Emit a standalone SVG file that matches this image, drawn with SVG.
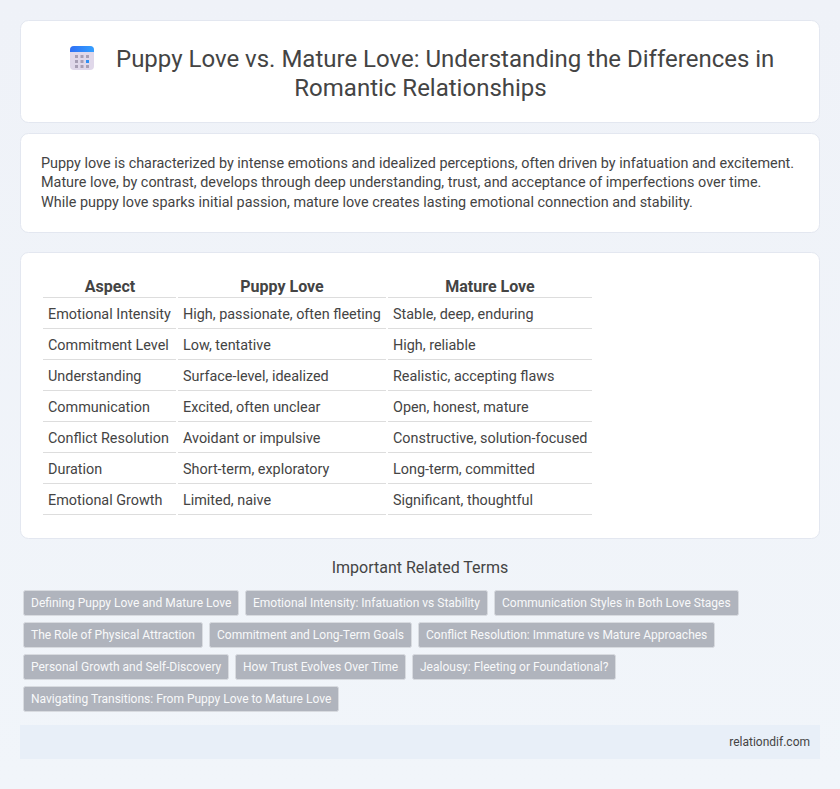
<svg xmlns="http://www.w3.org/2000/svg" width="840" height="789" viewBox="0 0 840 789">
<style>
text{font-family:Roboto,"Liberation Sans",sans-serif;fill:#444}
.card{fill:#fff;stroke:#e3e7f0;stroke-width:1}
.t{font-size:24px}
.p{font-size:14.4px}
.h{font-size:16px;font-weight:700;text-anchor:middle}
.c{font-size:14.4px}
.l{stroke:#ddd;stroke-width:1;fill:none}
.tag rect{fill:#b0b4bd;stroke:#d8dbe0;stroke-width:1}
.tag text{font-size:12px;fill:#f8f9fa}
</style>
<defs>
<linearGradient id="bg" x1="0" y1="0" x2="0" y2="1"><stop offset="0" stop-color="#eff2f8"/><stop offset="1" stop-color="#f1f5fa"/></linearGradient>
<linearGradient id="band" x1="0" y1="0" x2="1" y2="0"><stop offset="0" stop-color="#2f6ff5"/><stop offset="1" stop-color="#34a0ff"/></linearGradient>
</defs>
<rect width="840" height="789" fill="url(#bg)"/>
<g id="title-card">
<rect class="card" x="20.5" y="20.5" width="799" height="102" rx="8"/>
<rect x="70" y="46" width="24" height="24" rx="4" fill="#e0d8ea"/>
<path d="M70 52v-2a4 4 0 0 1 4-4h16a4 4 0 0 1 4 4v2z" fill="url(#band)"/>
<g fill="#a89fb5"><rect x="75" y="55" width="3" height="3"/><rect x="80.500" y="55" width="3" height="3"/><rect x="86" y="55" width="3" height="3"/><rect x="75" y="60" width="3" height="3"/><rect x="80.500" y="60" width="3" height="3"/><rect x="75" y="65" width="3" height="3"/><rect x="80.500" y="65" width="3" height="3"/><rect x="86" y="65" width="3" height="3"/></g>
<rect x="86" y="60" width="3" height="3" fill="#2f8ff5"/>
<text class="t" x="116" y="67">Puppy Love vs. Mature Love: Understanding the Differences in</text>
<text class="t" x="420.500" y="96" text-anchor="middle">Romantic Relationships</text>
</g>
<g id="intro-card">
<rect class="card" x="20.5" y="133.500" width="799" height="99" rx="8"/>
<text class="p" x="41" y="168">Puppy love is characterized by intense emotions and idealized perceptions, often driven by infatuation and excitement.</text>
<text class="p" x="41" y="187">Mature love, by contrast, develops through deep understanding, trust, and acceptance of imperfections over time.</text>
<text class="p" x="41" y="207">While puppy love sparks initial passion, mature love creates lasting emotional connection and stability.</text>
</g>
<g id="table-card">
<rect class="card" x="20.5" y="252.500" width="799" height="286" rx="8"/>
<text class="h" x="110" y="292">Aspect</text><text class="h" x="282" y="292">Puppy Love</text><text class="h" x="490" y="292">Mature Love</text>
<g class="c">
<text class="c" x="48" y="319">Emotional Intensity</text><text class="c" x="183" y="319">High, passionate, often fleeting</text><text class="c" x="393" y="319">Stable, deep, enduring</text>
<text class="c" x="48" y="350">Commitment Level</text><text class="c" x="183" y="350">Low, tentative</text><text class="c" x="393" y="350">High, reliable</text>
<text class="c" x="48" y="381">Understanding</text><text class="c" x="183" y="381">Surface-level, idealized</text><text class="c" x="393" y="381">Realistic, accepting flaws</text>
<text class="c" x="48" y="412">Communication</text><text class="c" x="183" y="412">Excited, often unclear</text><text class="c" x="393" y="412">Open, honest, mature</text>
<text class="c" x="48" y="443">Conflict Resolution</text><text class="c" x="183" y="443">Avoidant or impulsive</text><text class="c" x="393" y="443">Constructive, solution-focused</text>
<text class="c" x="48" y="474">Duration</text><text class="c" x="183" y="474">Short-term, exploratory</text><text class="c" x="393" y="474">Long-term, committed</text>
<text class="c" x="48" y="505">Emotional Growth</text><text class="c" x="183" y="505">Limited, naive</text><text class="c" x="393" y="505">Significant, thoughtful</text>
</g>
<path class="l" d="M43 297.500H176M178 297.500H386M388 297.500H592M43 328.500H176M178 328.500H386M388 328.500H592M43 359.500H176M178 359.500H386M388 359.500H592M43 390.500H176M178 390.500H386M388 390.500H592M43 421.500H176M178 421.500H386M388 421.500H592M43 452.500H176M178 452.500H386M388 452.500H592M43 483.500H176M178 483.500H386M388 483.500H592M43 514.500H176M178 514.500H386M388 514.500H592"/>
</g>
<text x="420" y="573" text-anchor="middle" font-size="16">Important Related Terms</text>
<g id="tags" class="tag">
<rect x="23.500" y="590.500" width="215" height="25" rx="2"/><text x="31" y="607">Defining Puppy Love and Mature Love</text>
<rect x="245.500" y="590.500" width="242" height="25" rx="2"/><text x="253" y="607">Emotional Intensity: Infatuation vs Stability</text>
<rect x="494.500" y="590.500" width="244" height="25" rx="2"/><text x="502" y="607">Communication Styles in Both Love Stages</text>
<rect x="23.500" y="622.500" width="179" height="25" rx="2"/><text x="31" y="639">The Role of Physical Attraction</text>
<rect x="209.500" y="622.500" width="202" height="25" rx="2"/><text x="217" y="639">Commitment and Long-Term Goals</text>
<rect x="418.500" y="622.500" width="296" height="25" rx="2"/><text x="426" y="639">Conflict Resolution: Immature vs Mature Approaches</text>
<rect x="23.500" y="654.500" width="205" height="25" rx="2"/><text x="31" y="671">Personal Growth and Self-Discovery</text>
<rect x="235.500" y="654.500" width="170" height="25" rx="2"/><text x="243" y="671">How Trust Evolves Over Time</text>
<rect x="412.500" y="654.500" width="203" height="25" rx="2"/><text x="420" y="671">Jealousy: Fleeting or Foundational?</text>
<rect x="23.500" y="686.500" width="315" height="25" rx="2"/><text x="31" y="703">Navigating Transitions: From Puppy Love to Mature Love</text>
</g>
<g id="footer">
<rect x="20" y="725" width="800" height="34" fill="#e8eff8"/>
<text x="810" y="746" text-anchor="end" font-size="12">relationdif.com</text>
</g>
</svg>
